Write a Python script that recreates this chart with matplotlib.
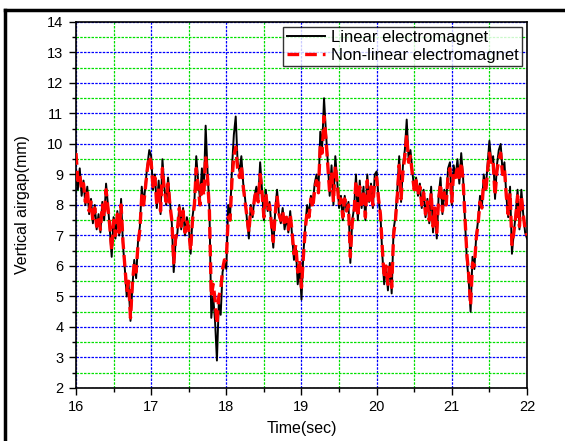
import numpy as np
import matplotlib
matplotlib.use('Agg')
import matplotlib.pyplot as plt
from matplotlib.lines import Line2D
from matplotlib.ticker import MultipleLocator

plt.rcParams['font.family'] = ['Liberation Sans', 'DejaVu Sans']

# time base, 0.025 s steps from 16 to 22 s
t = np.linspace(16, 22, 241)

# vertical airgap (mm)
linear = [
    9.0, 8.5, 9.2, 8.3, 8.8, 8.0, 8.6, 7.7, 8.2, 7.4, 8.0, 7.2, 7.7, 7.1, 8.1, 7.5, 8.7, 8.0, 7.2, 6.3,
    7.6, 6.9, 7.8, 7.0, 8.2, 6.7, 5.9, 5.0, 5.4, 4.2, 5.3, 6.2, 5.6, 6.8, 7.3, 8.6, 8.0, 8.7, 9.3, 9.8,
    9.6, 8.5, 9.0, 7.9, 8.8, 7.7, 9.5, 8.6, 8.0, 8.9, 8.1, 7.4, 5.8, 6.8, 7.1, 8.0, 7.2, 7.9, 7.0, 7.6,
    7.3, 6.4, 7.6, 8.1, 9.6, 8.8, 8.2, 9.2, 8.4, 10.6, 9.1, 7.9, 4.3, 5.0, 4.2, 2.9, 4.8, 4.4, 5.8, 6.1,
    5.9, 8.0, 7.6, 9.2, 10.3, 10.9, 9.4, 9.1, 9.6, 8.7, 8.2, 7.5, 6.9, 8.0, 7.6, 8.3, 8.6, 8.2, 9.4, 8.5,
    7.5, 8.5, 7.8, 8.1, 7.3, 6.6, 7.8, 8.5, 7.7, 7.4, 7.9, 7.2, 7.6, 7.1, 7.8, 7.0, 6.2, 6.6, 5.4, 6.0,
    4.9, 6.4, 7.3, 8.0, 7.7, 8.3, 8.0, 8.7, 9.0, 8.4, 10.4, 9.9, 11.5, 10.4, 9.4, 8.3, 9.3, 8.0, 9.6, 8.8,
    7.9, 8.3, 7.5, 8.3, 7.8, 8.1, 6.1, 7.5, 7.9, 9.0, 7.5, 8.8, 7.9, 8.6, 7.5, 9.0, 8.1, 8.7, 7.9, 9.0,
    9.1, 8.2, 7.7, 6.4, 5.4, 6.0, 5.2, 6.1, 5.1, 7.2, 7.6, 8.5, 9.6, 8.1, 9.3, 9.8, 10.8, 9.5, 9.8, 9.1,
    8.5, 8.9, 8.3, 8.7, 7.9, 8.5, 7.6, 8.2, 7.4, 8.6, 7.1, 7.9, 6.9, 8.3, 8.9, 7.7, 8.5, 8.0, 9.2, 9.4,
    8.0, 9.3, 8.9, 9.5, 8.7, 9.7, 8.9, 7.5, 6.2, 5.5, 4.5, 6.3, 5.9, 7.0, 7.5, 8.3, 7.9, 9.0, 8.5, 9.3,
    10.1, 9.4, 9.6, 8.2, 9.3, 9.8, 10.0, 9.1, 9.4, 8.3, 7.6, 8.6, 6.4, 7.1, 7.7, 8.5, 7.2, 8.5, 7.7, 7.1,
    6.9,
]

nonlinear = [
    9.7, 8.8, 9.0, 8.5, 8.7, 8.1, 8.5, 7.8, 8.1, 7.5, 7.9, 7.3, 7.6, 7.2, 8.0, 7.6, 8.5, 7.9, 7.3, 6.5,
    7.5, 7.0, 7.7, 7.1, 8.0, 6.8, 6.0, 5.2, 5.5, 4.3, 5.4, 6.1, 5.8, 6.7, 7.2, 8.3, 8.0, 8.6, 9.2, 9.6,
    9.4, 8.6, 8.9, 8.0, 8.6, 7.8, 9.2, 8.5, 8.1, 8.7, 8.0, 7.5, 6.1, 6.9, 7.2, 7.9, 7.3, 7.8, 7.1, 7.5,
    7.2, 6.5, 7.5, 8.0, 9.2, 8.6, 8.0, 8.8, 8.3, 9.6, 8.9, 7.8, 5.0, 5.4, 4.9, 4.1, 5.0, 5.2, 5.9, 6.2,
    6.2, 7.6, 7.5, 8.8, 9.6, 9.9, 9.2, 8.9, 9.3, 8.6, 8.1, 7.6, 7.1, 7.9, 7.7, 8.2, 8.5, 8.1, 9.0, 8.4,
    7.6, 8.4, 7.8, 8.0, 7.4, 6.8, 7.7, 8.3, 7.7, 7.5, 7.8, 7.3, 7.6, 7.2, 7.7, 7.1, 6.4, 6.7, 5.8, 6.2,
    5.3, 6.3, 7.2, 7.8, 7.6, 8.2, 7.9, 8.5, 8.8, 8.4, 10.0, 9.7, 10.9, 10.2, 9.3, 8.4, 9.1, 8.1, 9.3, 8.7,
    8.0, 8.2, 7.6, 8.2, 7.8, 8.0, 6.3, 7.4, 7.8, 8.8, 7.6, 8.6, 7.9, 8.5, 7.6, 8.8, 8.1, 8.6, 8.0, 8.8,
    8.9, 8.2, 7.7, 6.6, 5.6, 6.0, 5.4, 6.1, 5.3, 7.0, 7.5, 8.3, 9.3, 8.2, 9.1, 9.6, 10.3, 9.4, 9.6, 9.0,
    8.5, 8.8, 8.3, 8.6, 8.0, 8.4, 7.7, 8.1, 7.5, 8.4, 7.3, 7.9, 7.1, 8.2, 8.7, 7.8, 8.4, 8.0, 9.0, 9.2,
    8.1, 9.1, 8.9, 9.3, 8.8, 9.4, 8.8, 7.6, 6.4, 5.7, 4.7, 6.1, 6.0, 6.9, 7.4, 8.1, 7.9, 8.8, 8.4, 9.1,
    9.7, 9.3, 9.4, 8.3, 9.1, 9.5, 9.7, 9.0, 9.2, 8.3, 7.7, 8.4, 6.7, 7.1, 7.6, 8.3, 7.3, 8.3, 7.7, 7.2,
    7.0,
]

fig = plt.figure(figsize=(5.65, 4.41), dpi=100)
ax = fig.add_axes([0.1345, 0.1202, 0.7982, 0.8300])

ax.plot(t, linear, color='black', lw=1.4, label='Linear electromagnet', zorder=3)
ax.plot(t, nonlinear, color='red', lw=2.4, ls=(0, (3.5, 1.8)),
        label='Non-linear electromagnet', zorder=4)

ax.set_xlim(16, 22)
ax.set_ylim(2, 14)
ax.xaxis.set_major_locator(MultipleLocator(1))
ax.xaxis.set_minor_locator(MultipleLocator(0.5))
ax.yaxis.set_major_locator(MultipleLocator(1))
ax.yaxis.set_minor_locator(MultipleLocator(0.5))

ax.grid(which='major', color='#0000ff', lw=0.9, ls=(0, (2, 1)), zorder=1)
ax.grid(which='minor', color='#00e000', lw=0.9, ls=(0, (2, 1)), zorder=1)
ax.set_axisbelow(True)

ax.tick_params(which='major', direction='out', length=5, width=1, labelsize=10.5,
               top=False, right=False, pad=4)
ax.tick_params(which='minor', direction='out', length=3, width=1,
               top=False, right=False)
for s in ax.spines.values():
    s.set_linewidth(1.2)

ax.set_xlabel('Time(sec)', fontsize=11.5, labelpad=5)
ax.set_ylabel('Vertical airgap(mm)', fontsize=11.5, labelpad=12)

leg = ax.legend(loc='upper right', fontsize=12, frameon=True, fancybox=False,
                handlelength=2.3, borderpad=0.2, labelspacing=0.15,
                handletextpad=0.35, borderaxespad=0.3)
leg.get_frame().set_edgecolor('black')
leg.get_frame().set_linewidth(1.0)

# frame lines around the picture (left and top)
fig.add_artist(Line2D([0.009, 0.009], [0.0, 0.977], color='black', lw=2.5,
                      transform=fig.transFigure))
fig.add_artist(Line2D([0.009, 1.0], [0.977, 0.977], color='black', lw=2.5,
                      transform=fig.transFigure))

fig.savefig('out.png', dpi=100)
